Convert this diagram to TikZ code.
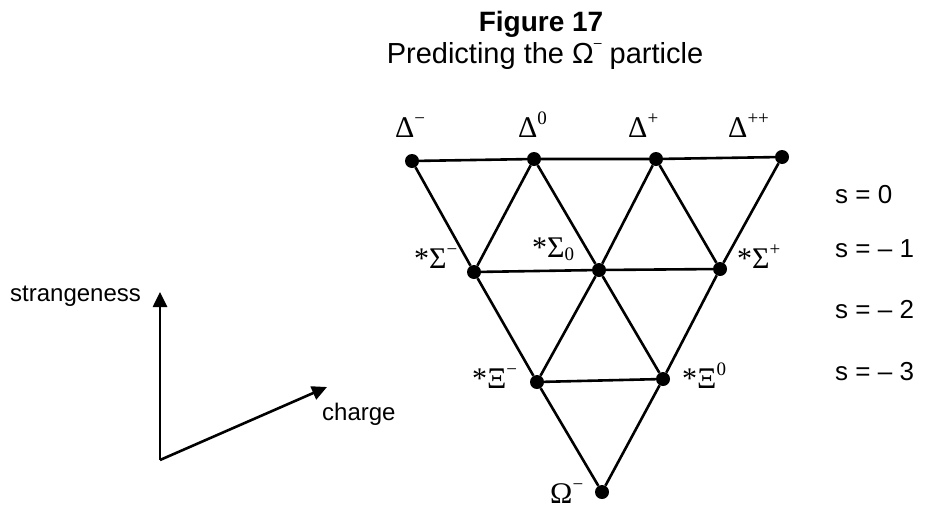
\documentclass[tikz,border=0pt]{standalone}
\usepackage{fontspec}
\setmainfont{Liberation Serif}
\newfontfamily\arial{Liberation Sans}
\usetikzlibrary{arrows.meta}
\newcommand\mysup[1]{\raisebox{0.42em}{\fontsize{19}{19}\selectfont #1}}
\newcommand\mysub[1]{\raisebox{-0.12em}{\fontsize{19}{19}\selectfont #1}}
\begin{document}
\begin{tikzpicture}[x=1pt,y=-1pt,
  dot/.style={circle,fill=black,inner sep=0pt,minimum size=14pt},
  edge/.style={line width=2.6pt},
  lbl/.style={inner sep=0pt,anchor=base west,font=\fontsize{30}{30}\selectfont},
  slbl/.style={inner sep=0pt,anchor=base west,font=\arial\fontsize{26}{26}\selectfont},
  albl/.style={inner sep=0pt,anchor=base west,font=\arial\fontsize{24}{24}\selectfont},
  axis/.style={line width=2.6pt,-{Triangle[length=15pt,width=14pt]}},
  ]
\useasboundingbox (0,0) rectangle (926,509);
% title
\node[inner sep=0pt,anchor=base,font=\arial\bfseries\fontsize{28}{28}\selectfont] (t1) at (541,31) {Figure 17};
\node[inner sep=0pt,anchor=base,font=\arial\fontsize{29}{29}\selectfont] (t2) at (545,63) {Predicting the Ω\raisebox{16pt}{\fontsize{14}{14}\selectfont –} particle};
% dots
\node[dot] (dm)  at (412,161) {};
\node[dot] (d0)  at (534,159) {};
\node[dot] (dp)  at (656,159) {};
\node[dot] (dpp) at (782,157) {};
\node[dot] (sm)  at (474,272) {};
\node[dot] (s0)  at (599,270) {};
\node[dot] (sp)  at (720,269) {};
\node[dot] (xm)  at (537,382) {};
\node[dot] (x0)  at (663,379) {};
\node[dot] (om)  at (602,492) {};
% edges
\draw[edge] (dm) -- (d0) -- (dp) -- (dpp);
\draw[edge] (sm) -- (s0) -- (sp);
\draw[edge] (xm) -- (x0);
\draw[edge] (dm) -- (sm) -- (xm) -- (om);
\draw[edge] (d0) -- (s0) -- (x0);
\draw[edge] (dp) -- (sp);
\draw[edge] (dpp) -- (sp) -- (x0) -- (om);
\draw[edge] (dp) -- (s0) -- (xm);
\draw[edge] (d0) -- (sm);
% particle labels
\node[lbl] (ldm)  at (395,137) {Δ\mysup{−}};
\node[lbl] (ld0)  at (518,137) {Δ\mysup{0}};
\node[lbl] (ldp)  at (628,137) {Δ\mysup{+}};
\node[lbl] (ldpp) at (728,137) {Δ\mysup{++}};
\node[lbl] (lsm)  at (414,268) {*Σ\mysup{−}};
\node[lbl] (ls0)  at (532,257) {*Σ\mysub{0}};
\node[lbl] (lsp)  at (737,268) {*Σ\mysup{+}};
\node[lbl] (lxm)  at (472,388) {*Ξ\mysup{−}};
\node[lbl] (lx0)  at (682,388) {*Ξ\mysup{0}};
\node[lbl] (lom)  at (550,503) {Ω\mysup{−}};
% strangeness levels
\node[slbl] (s0l) at (835,203) {s = 0};
\node[slbl] (s1l) at (835,257) {s = – 1};
\node[slbl] (s2l) at (835,318) {s = – 2};
\node[slbl] (s3l) at (835,380) {s = – 3};
% axes
\coordinate (orig) at (160,460);
\coordinate (up) at (160,292);
\coordinate (rt) at (327,387);
\draw[axis] (orig) -- (up);
\draw[axis] (orig) -- (rt);
\node[albl] (lstr) at (10,301) {strangeness};
\node[albl] (lch) at (322,420) {charge};
\end{tikzpicture}
\end{document}
